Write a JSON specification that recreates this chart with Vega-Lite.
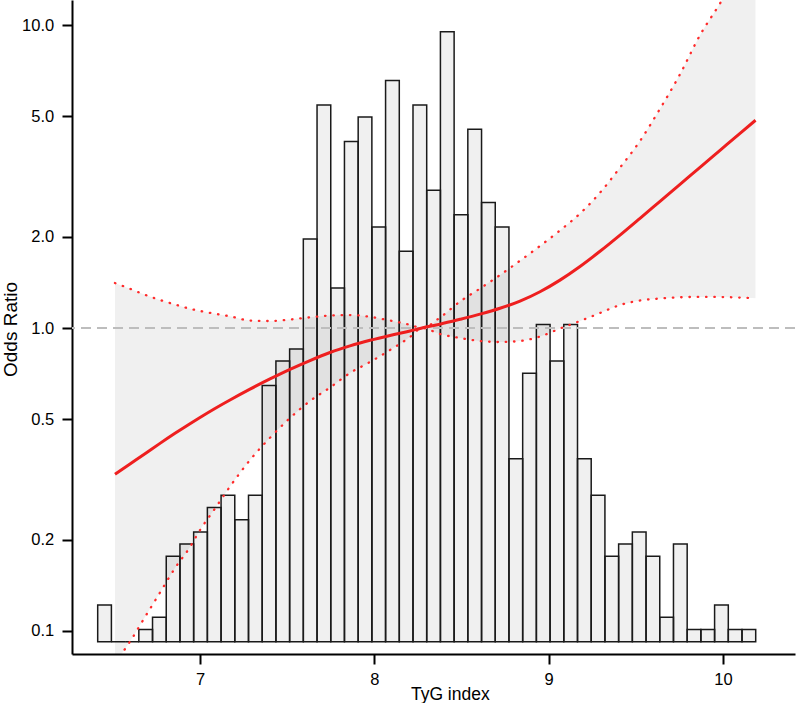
{
  "$schema": "https://vega.github.io/schema/vega-lite/v6.json",
  "width": 723,
  "height": 654,
  "autosize": {"type": "none"},
  "padding": {"left": 72, "top": 0, "right": 1, "bottom": 49},
  "background": "white",
  "config": {
    "view": {"stroke": null},
    "font": "Liberation Sans",
    "axis": {
      "domainColor": "#000000",
      "domainWidth": 2,
      "tickColor": "#000000",
      "tickWidth": 2,
      "tickSize": 10,
      "labelColor": "#000000",
      "labelFontSize": 16.5,
      "labelFont": "Liberation Sans",
      "titleFont": "Liberation Sans",
      "titleColor": "#000000",
      "titleFontWeight": "normal",
      "grid": false
    }
  },
  "datasets": {
    "hist": [
      {"x0": 6.4132, "x1": 6.4918, "n": 3},
      {"x0": 6.4918, "x1": 6.5705, "n": 0},
      {"x0": 6.5705, "x1": 6.6491, "n": 0},
      {"x0": 6.6491, "x1": 6.7277, "n": 1},
      {"x0": 6.7277, "x1": 6.8064, "n": 2},
      {"x0": 6.8064, "x1": 6.8850, "n": 7},
      {"x0": 6.8850, "x1": 6.9636, "n": 8},
      {"x0": 6.9636, "x1": 7.0423, "n": 9},
      {"x0": 7.0423, "x1": 7.1209, "n": 11},
      {"x0": 7.1209, "x1": 7.1995, "n": 12},
      {"x0": 7.1995, "x1": 7.2782, "n": 10},
      {"x0": 7.2782, "x1": 7.3568, "n": 12},
      {"x0": 7.3568, "x1": 7.4355, "n": 21},
      {"x0": 7.4355, "x1": 7.5141, "n": 23},
      {"x0": 7.5141, "x1": 7.5927, "n": 24},
      {"x0": 7.5927, "x1": 7.6714, "n": 33},
      {"x0": 7.6714, "x1": 7.7500, "n": 44},
      {"x0": 7.7500, "x1": 7.8286, "n": 29},
      {"x0": 7.8286, "x1": 7.9073, "n": 41},
      {"x0": 7.9073, "x1": 7.9859, "n": 43},
      {"x0": 7.9859, "x1": 8.0645, "n": 34},
      {"x0": 8.0645, "x1": 8.1432, "n": 46},
      {"x0": 8.1432, "x1": 8.2218, "n": 32},
      {"x0": 8.2218, "x1": 8.3004, "n": 44},
      {"x0": 8.3004, "x1": 8.3791, "n": 37},
      {"x0": 8.3791, "x1": 8.4577, "n": 50},
      {"x0": 8.4577, "x1": 8.5363, "n": 35},
      {"x0": 8.5363, "x1": 8.6150, "n": 42},
      {"x0": 8.6150, "x1": 8.6936, "n": 36},
      {"x0": 8.6936, "x1": 8.7722, "n": 34},
      {"x0": 8.7722, "x1": 8.8509, "n": 15},
      {"x0": 8.8509, "x1": 8.9295, "n": 22},
      {"x0": 8.9295, "x1": 9.0081, "n": 26},
      {"x0": 9.0081, "x1": 9.0868, "n": 23},
      {"x0": 9.0868, "x1": 9.1654, "n": 26},
      {"x0": 9.1654, "x1": 9.2440, "n": 15},
      {"x0": 9.2440, "x1": 9.3227, "n": 12},
      {"x0": 9.3227, "x1": 9.4013, "n": 7},
      {"x0": 9.4013, "x1": 9.4800, "n": 8},
      {"x0": 9.4800, "x1": 9.5586, "n": 9},
      {"x0": 9.5586, "x1": 9.6372, "n": 7},
      {"x0": 9.6372, "x1": 9.7159, "n": 2},
      {"x0": 9.7159, "x1": 9.7945, "n": 8},
      {"x0": 9.7945, "x1": 9.8731, "n": 1},
      {"x0": 9.8731, "x1": 9.9518, "n": 1},
      {"x0": 9.9518, "x1": 10.0304, "n": 3},
      {"x0": 10.0304, "x1": 10.1090, "n": 1},
      {"x0": 10.1090, "x1": 10.1876, "n": 1}
    ],
    "curve": [
      {"x": 6.5124, "or": 0.3286, "lo": 0.0782, "hi": 1.408},
      {"x": 6.5985, "or": 0.3554, "lo": 0.0921, "hi": 1.3474},
      {"x": 6.6845, "or": 0.3843, "lo": 0.1110, "hi": 1.2883},
      {"x": 6.7706, "or": 0.4159, "lo": 0.1337, "hi": 1.2374},
      {"x": 6.8566, "or": 0.4489, "lo": 0.1611, "hi": 1.1957},
      {"x": 6.9426, "or": 0.4831, "lo": 0.1890, "hi": 1.1580},
      {"x": 7.0000, "or": 0.5065, "lo": 0.2151, "hi": 1.1389},
      {"x": 7.0860, "or": 0.5424, "lo": 0.2533, "hi": 1.1149},
      {"x": 7.1721, "or": 0.5786, "lo": 0.2995, "hi": 1.0930},
      {"x": 7.2868, "or": 0.6283, "lo": 0.3664, "hi": 1.0587},
      {"x": 7.4015, "or": 0.6790, "lo": 0.4341, "hi": 1.0547},
      {"x": 7.5163, "or": 0.7305, "lo": 0.5044, "hi": 1.0668},
      {"x": 7.6310, "or": 0.7809, "lo": 0.5740, "hi": 1.0847},
      {"x": 7.7457, "or": 0.8300, "lo": 0.6359, "hi": 1.0998},
      {"x": 7.8604, "or": 0.8727, "lo": 0.7103, "hi": 1.1038},
      {"x": 7.9752, "or": 0.9107, "lo": 0.7723, "hi": 1.0889},
      {"x": 8.0899, "or": 0.9453, "lo": 0.8459, "hi": 1.0587},
      {"x": 8.2046, "or": 0.9782, "lo": 0.9338, "hi": 1.0247},
      {"x": 8.2734, "or": 1.0, "lo": 1.0, "hi": 1.0},
      {"x": 8.3767, "or": 1.0293, "lo": 0.9554, "hi": 1.0832},
      {"x": 8.4914, "or": 1.0684, "lo": 0.9268, "hi": 1.2234},
      {"x": 8.6061, "or": 1.1115, "lo": 0.9060, "hi": 1.3504},
      {"x": 8.7209, "or": 1.1619, "lo": 0.8990, "hi": 1.4965},
      {"x": 8.8356, "or": 1.2271, "lo": 0.9060, "hi": 1.6686},
      {"x": 8.9503, "or": 1.3180, "lo": 0.9374, "hi": 1.8669},
      {"x": 9.0650, "or": 1.4396, "lo": 0.9962, "hi": 2.1012},
      {"x": 9.1798, "or": 1.5966, "lo": 1.0547, "hi": 2.3890},
      {"x": 9.2945, "or": 1.7923, "lo": 1.1209, "hi": 2.7990},
      {"x": 9.4092, "or": 2.0271, "lo": 1.1912, "hi": 3.3878},
      {"x": 9.5239, "or": 2.3036, "lo": 1.2328, "hi": 4.1486},
      {"x": 9.6387, "or": 2.6218, "lo": 1.2516, "hi": 5.2986},
      {"x": 9.7534, "or": 2.9835, "lo": 1.2632, "hi": 6.8895},
      {"x": 9.8681, "or": 3.3954, "lo": 1.2670, "hi": 9.2750},
      {"x": 9.9828, "or": 3.8637, "lo": 1.2661, "hi": 11.803},
      {"x": 10.0976, "or": 4.3972, "lo": 1.2604, "hi": 15.346},
      {"x": 10.1865, "or": 4.8557, "lo": 1.2546, "hi": 18.707}
    ]
  },
  "layer": [
    {
      "data": {"name": "hist"},
      "mark": {"type": "rect", "fill": "#000000", "fillOpacity": 0.06, "stroke": "#1a1a1a", "strokeWidth": 1.5},
      "encoding": {
        "x": {
          "field": "x0", "type": "quantitative", "title": "TyG index",
          "scale": {"domain": [6.2658, 10.413], "nice": false, "zero": false},
          "axis": {"values": [7, 8, 9, 10], "format": "d", "labelPadding": 7, "titleFontSize": 17.5, "titleX": 377.8, "titleY": 45, "titleBaseline": "alphabetic", "titleAlign": "center"}
        },
        "x2": {"field": "x1"},
        "y": {"field": "n", "type": "quantitative", "scale": {"domain": [-1.008, 52.6], "nice": false, "zero": false}, "axis": null},
        "y2": {"datum": 0}
      }
    },
    {
      "data": {"name": "curve"},
      "layer": [
        {
          "mark": {"type": "area", "fill": "#000000", "fillOpacity": 0.06, "clip": true, "interpolate": "monotone"},
          "encoding": {
            "x": {"field": "x", "type": "quantitative", "title": "TyG index", "scale": {"domain": [6.2658, 10.413], "nice": false, "zero": false}},
            "y": {
              "field": "lo", "type": "quantitative", "title": "Odds Ratio",
              "scale": {"type": "log", "domain": [0.0838, 12.12], "nice": false},
              "axis": {"orient": "left", "values": [0.1, 0.2, 0.5, 1, 2, 5, 10], "format": ".1f", "labelPadding": 8.3, "titleFontSize": 19, "titleX": -56, "titleY": 329, "titleAngle": 270, "titleBaseline": "alphabetic", "titleAlign": "center"}
            },
            "y2": {"field": "hi"}
          }
        },
        {
          "data": {"values": [{"ref": 1}]},
          "mark": {"type": "rule", "color": "#BDBDBD", "strokeWidth": 2, "strokeDash": [10, 6]},
          "encoding": {
            "y": {"field": "ref", "type": "quantitative", "title": "Odds Ratio", "scale": {"type": "log", "domain": [0.0838, 12.12], "nice": false}}
          }
        },
        {
          "mark": {"type": "line", "color": "#FF2A2A", "strokeWidth": 2.3, "strokeDash": [0.5, 7.8], "strokeCap": "round", "clip": true, "interpolate": "monotone"},
          "encoding": {
            "x": {"field": "x", "type": "quantitative", "title": "TyG index", "scale": {"domain": [6.2658, 10.413], "nice": false, "zero": false}},
            "y": {"field": "hi", "type": "quantitative", "title": "Odds Ratio", "scale": {"type": "log", "domain": [0.0838, 12.12], "nice": false}}
          }
        },
        {
          "mark": {"type": "line", "color": "#FF2A2A", "strokeWidth": 2.3, "strokeDash": [0.5, 7.8], "strokeCap": "round", "clip": true, "interpolate": "monotone"},
          "encoding": {
            "x": {"field": "x", "type": "quantitative", "title": "TyG index", "scale": {"domain": [6.2658, 10.413], "nice": false, "zero": false}},
            "y": {"field": "lo", "type": "quantitative", "title": "Odds Ratio", "scale": {"type": "log", "domain": [0.0838, 12.12], "nice": false}}
          }
        },
        {
          "mark": {"type": "line", "color": "#EE1F1F", "strokeWidth": 3, "clip": true, "interpolate": "monotone"},
          "encoding": {
            "x": {"field": "x", "type": "quantitative", "title": "TyG index", "scale": {"domain": [6.2658, 10.413], "nice": false, "zero": false}},
            "y": {"field": "or", "type": "quantitative", "title": "Odds Ratio", "scale": {"type": "log", "domain": [0.0838, 12.12], "nice": false}}
          }
        }
      ]
    }
  ],
  "resolve": {"scale": {"y": "independent"}}
}
